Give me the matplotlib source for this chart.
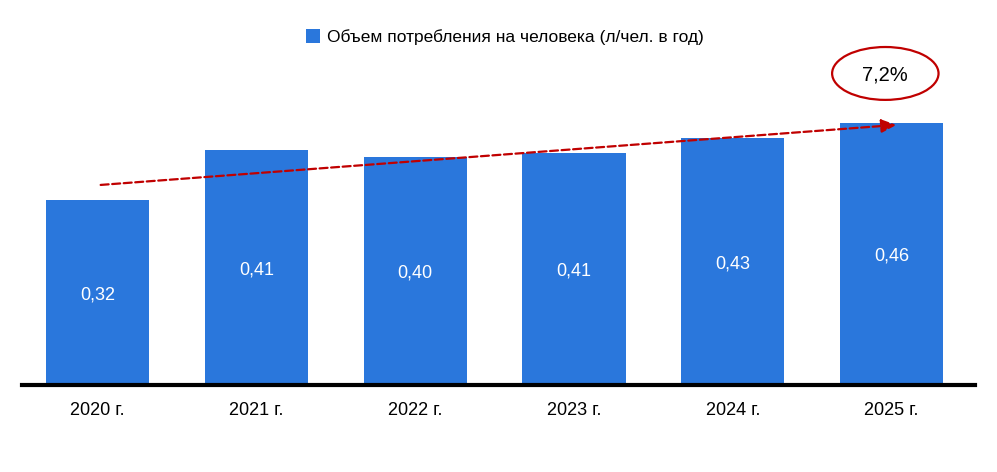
import matplotlib
matplotlib.use("Agg")
import matplotlib.pyplot as plt
from matplotlib.patches import Ellipse

categories = ["2020 г.", "2021 г.", "2022 г.", "2023 г.", "2024 г.", "2025 г."]
values = [0.323, 0.411, 0.399, 0.406, 0.432, 0.458]
series_name = "Объем потребления на человека (л/чел. в год)"
growth_label = "7,2%"

plt.rcParams['font.family'] = ['Liberation Sans', 'DejaVu Sans']
bar_color = '#2A77DC'

fig = plt.figure(figsize=(9.97, 4.72), dpi=100)
ax = fig.add_axes([0.0221, 0.1843, 0.9559, 0.7267])
x = list(range(len(categories)))
bars = ax.bar(x, values, width=0.65, color=bar_color, label=series_name, zorder=2)
for xi, v in zip(x, values):
    ax.text(xi, v / 2 - 0.004, f"{v:.2f}".replace('.', ','), ha='center', va='center',
            color='white', fontsize=13, zorder=3)

ax.set_xlim(-0.475, 5.525)
ax.set_ylim(0, 0.6)
ax.set_xticks(x)
ax.set_xticklabels(categories, fontsize=13)
ax.tick_params(axis='x', length=0, pad=12)
ax.set_yticks([])
for s in ['top', 'right', 'left']:
    ax.spines[s].set_visible(False)
ax.spines['bottom'].set_linewidth(3)
ax.spines['bottom'].set_color('black')

# trend arrow
ax.annotate('', xy=(5.03, 0.455), xytext=(0.02, 0.35),
            arrowprops=dict(arrowstyle='-|>,head_length=0.9,head_width=0.4',
                            color='#C00000', lw=1.6, linestyle=(0, (3.6, 1.6)),
                            shrinkA=0, shrinkB=0), zorder=4)

# growth ellipse
ell = Ellipse((4.96, 0.545), width=0.67, height=0.0925, facecolor='white',
              edgecolor='#C00000', lw=1.6, zorder=4, clip_on=False)
ax.add_patch(ell)
ax.text(4.96, 0.543, growth_label, ha='center', va='center', fontsize=14.5, zorder=5)

fig.legend(handles=[bars], labels=[series_name], loc='center',
           bbox_to_anchor=(505 / 997, 1 - 37 / 472), frameon=False,
           fontsize=12.5, handlelength=0.8, handleheight=0.8, handletextpad=0.4)

fig.savefig('out.png', dpi=100)
